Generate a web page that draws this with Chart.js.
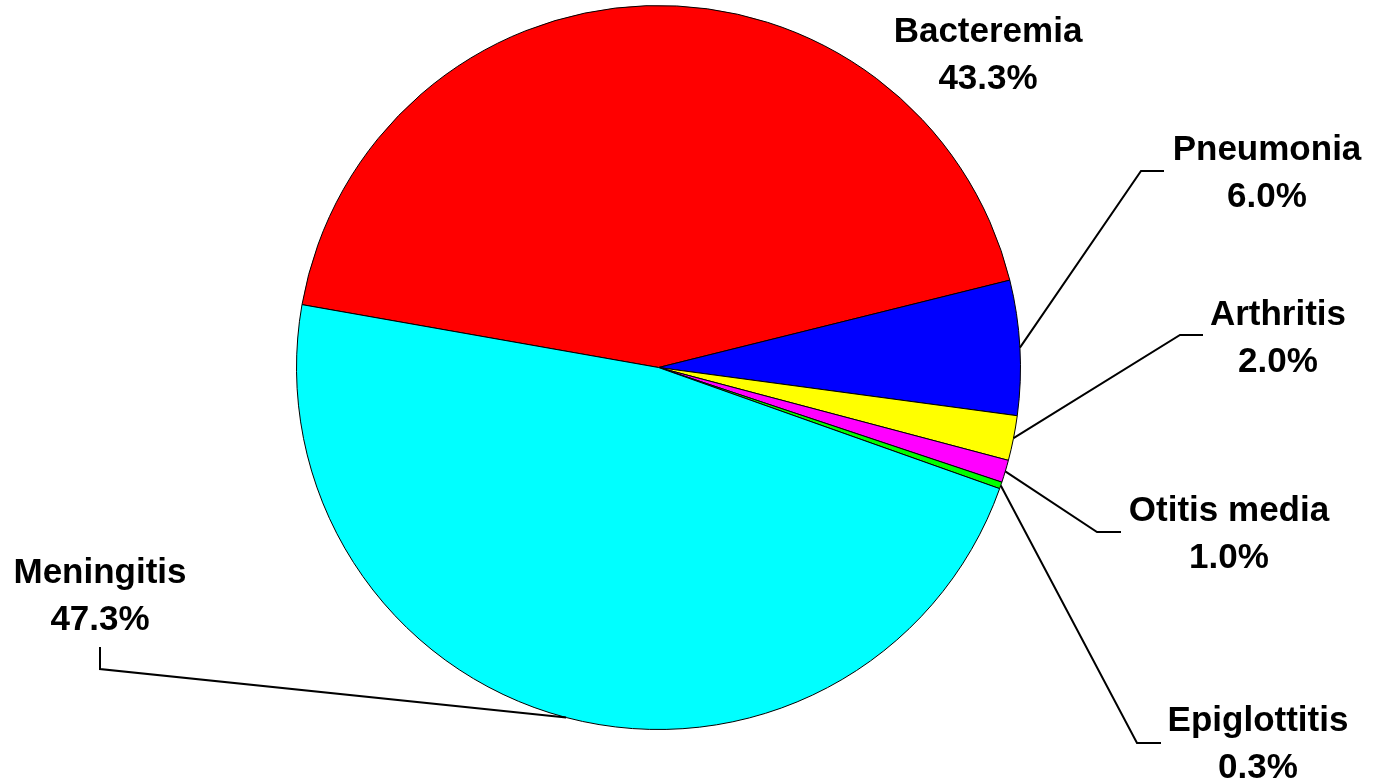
<!DOCTYPE html>
<html>
<head>
<meta charset="UTF-8">
<title>Pie</title>
<script src="https://cdn.jsdelivr.net/npm/chart.js@4/dist/chart.umd.min.js"></script>
<style>
  html, body { margin: 0; padding: 0; background: #fff; }
  canvas { display: block; }
</style>
</head>
<body>
<canvas id="chart-area" width="1373" height="784"></canvas>
<script>
var categories = ['Bacteremia', 'Pneumonia', 'Arthritis', 'Otitis media', 'Epiglottitis', 'Meningitis'];
var percents = [43.3, 6.0, 2.0, 1.0, 0.3, 47.3];
var sliceColors = ['#ff0000', '#0000ff', '#ffff00', '#ff00ff', '#00ff00', '#00ffff'];

// where each label sits (text center x, first baseline) and the elbow of its leader line
var labelSpots = [
  { x: 988, y: 42, elbow: null, end: null },
  { x: 1267, y: 160, elbow: [1141, 171], end: [1164, 171] },
  { x: 1278, y: 325, elbow: [1180, 335], end: [1203, 335] },
  { x: 1229, y: 521, elbow: [1097, 532], end: [1121, 532] },
  { x: 1258, y: 731, elbow: [1137, 743], end: [1161, 743] },
  { x: 100, y: 583, elbow: [100, 669], end: [100, 647] }
];

var labelPlugin = {
  id: 'sliceLabels',
  afterDatasetsDraw: function(chart) {
    var ctx = chart.ctx;
    var meta = chart.getDatasetMeta(0);
    ctx.save();
    ctx.font = 'bold 35px "Liberation Sans", Arial, sans-serif';
    ctx.fillStyle = '#000';
    ctx.textAlign = 'center';
    ctx.textBaseline = 'alphabetic';
    ctx.strokeStyle = '#000';
    ctx.lineWidth = 2;
    meta.data.forEach(function(arc, i) {
      var p = arc.getProps(['x', 'y', 'startAngle', 'endAngle', 'outerRadius'], true);
      var mid = (p.startAngle + p.endAngle) / 2;
      var sx = p.x + Math.cos(mid) * p.outerRadius;
      var sy = p.y + Math.sin(mid) * p.outerRadius;
      var spot = labelSpots[i];
      if (spot.elbow) {
        ctx.beginPath();
        ctx.moveTo(sx, sy);
        ctx.lineTo(spot.elbow[0], spot.elbow[1]);
        ctx.lineTo(spot.end[0], spot.end[1]);
        ctx.stroke();
      }
      ctx.fillText(categories[i], spot.x, spot.y);
      ctx.fillText(percents[i].toFixed(1) + '%', spot.x, spot.y + 47);
    });
    ctx.restore();
  }
};

var config = {
  type: 'pie',
  data: {
    labels: categories,
    datasets: [{
      data: percents,
      backgroundColor: sliceColors,
      borderColor: '#000',
      borderWidth: 1
    }]
  },
  options: {
    responsive: false,
    animation: false,
    rotation: -80,
    layout: { padding: { left: 296, right: 352, top: 5, bottom: 54 } },
    plugins: {
      legend: { display: false },
      tooltip: { enabled: false }
    }
  },
  plugins: [labelPlugin]
};

var ctx = document.getElementById('chart-area').getContext('2d');
window.myPie = new Chart(ctx, config);
</script>
</body>
</html>
